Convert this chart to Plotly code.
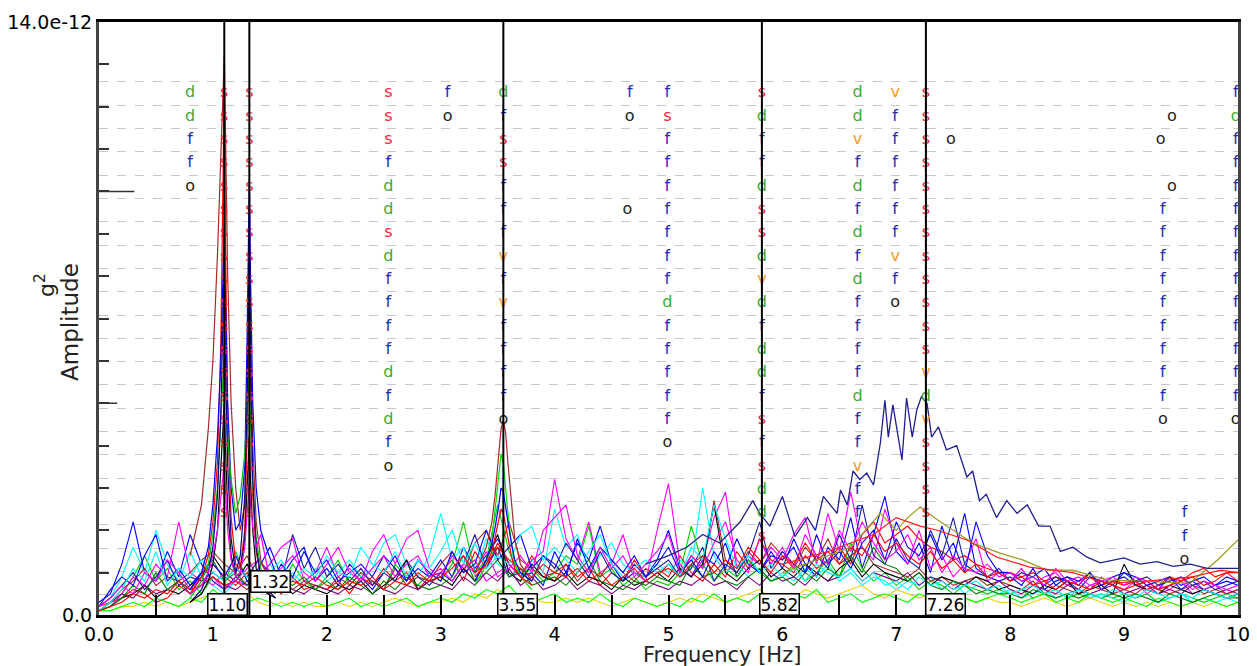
import plotly.graph_objects as go

# ---------------- data ----------------
FREQ_GRID = [i / 10 for i in range(101)]  # Hz, 0.1 Hz sampling

NOISE = [
    ("#0000ff", [0.3,0.5,1.2,2.2,1.0,0.8,1.5,0.9,1.9,1.2,
                 0.8,0.6,0.9,0.7,1.1,1.6,0.9,1.3,1.6,0.8,
                 1.1,0.7,1.2,0.9,0.6,1.0,1.4,0.8,1.1,0.9,
                 1.3,0.9,1.6,1.1,1.4,1.8,1.2,0.9,1.0,0.7,
                 1.5,1.0,1.7,1.3,2.1,1.2,0.8,1.0,0.9,1.3,
                 2.0,1.1,0.9,1.4,1.2,1.7,0.9,1.3,1.0,1.5,
                 1.1,1.8,1.2,0.9,1.6,1.3,2.3,1.1,1.9,2.8,
                 1.5,1.2,1.7,1.0,2.1,1.3,2.4,1.1,0.9,0.8,
                 0.9,0.7,1.1,0.6,0.8,0.9,0.7,1.0,0.6,0.8,
                 0.9,0.7,0.8,0.6,0.9,0.7,0.8,0.6,0.7,0.9,0.8]),
    ("#ff0000", [0.2,0.3,0.4,0.6,0.5,0.3,0.4,0.7,0.5,0.9,
                 1.2,0.9,0.7,1.0,0.6,0.8,0.5,0.9,0.6,0.7,
                 0.6,0.8,0.5,0.9,0.7,1.1,0.8,1.0,0.6,0.9,
                 1.0,1.3,0.8,1.5,1.1,1.7,1.2,0.9,1.4,1.0,
                 0.8,1.2,0.9,1.1,0.7,1.0,0.8,1.3,0.9,1.1,
                 0.9,1.4,1.0,0.8,1.2,0.9,1.5,1.1,1.8,1.3,
                 1.2,1.0,1.4,1.1,1.3,1.6,1.2,1.9,2.2,1.7,
                 1.9,2.1,1.8,1.6,1.5,1.3,1.4,1.2,1.1,1.0,
                 1.0,0.9,1.0,0.8,0.9,0.7,0.8,0.9,0.7,0.8,
                 0.7,0.8,0.6,0.7,0.9,0.8,1.0,1.1,0.9,1.0,1.0]),
    ("#00d000", [0.1,0.3,0.5,0.9,1.4,0.8,1.1,0.6,0.8,0.5,
                 0.9,0.7,1.5,0.8,0.6,0.9,0.7,1.2,0.8,0.6,
                 0.9,1.3,0.7,1.0,0.8,0.6,1.2,0.9,0.7,1.0,
                 0.8,1.2,2.2,1.0,1.3,2.6,1.5,0.9,1.1,0.8,
                 1.0,1.4,1.2,2.1,0.9,1.1,0.7,0.9,0.6,0.8,
                 0.7,1.0,2.1,1.2,0.8,1.1,0.9,1.3,1.0,0.8,
                 0.9,1.2,0.8,1.0,1.3,0.9,1.7,1.1,0.8,1.0,
                 0.7,0.9,0.6,0.8,0.7,0.5,0.7,0.6,0.5,0.6,
                 0.5,0.6,0.4,0.5,0.6,0.4,0.5,0.4,0.5,0.4,
                 0.5,0.4,0.5,0.3,0.4,0.5,0.4,0.3,0.4,0.5,0.4]),
    ("#00ffff", [0.2,0.4,0.9,1.6,1.0,2.0,1.2,0.8,1.5,0.9,
                 0.7,0.5,0.8,0.6,0.9,1.2,0.8,1.0,0.7,1.1,
                 0.8,1.0,1.3,0.9,1.1,1.7,1.9,1.2,0.9,1.4,
                 2.4,1.3,1.6,0.9,1.8,1.2,1.0,0.8,1.3,1.0,
                 2.5,1.6,1.9,1.1,1.4,1.7,1.2,1.0,0.9,1.2,
                 1.0,1.3,1.1,3.0,1.4,1.0,1.2,0.9,1.1,0.8,
                 1.0,0.8,1.1,0.9,1.2,0.8,1.0,0.7,0.9,0.8,
                 0.6,0.8,0.7,0.9,0.6,0.8,0.5,0.7,0.6,0.5,
                 0.6,0.4,0.5,0.6,0.4,0.5,0.6,0.4,0.5,0.4,
                 0.3,0.5,0.4,0.3,0.4,0.5,0.3,0.4,0.3,0.4,0.3]),
    ("#ff00ff", [0.1,0.2,0.5,0.9,0.7,1.2,0.9,2.2,1.0,0.8,
                 0.9,0.6,0.8,0.7,0.9,1.2,1.6,1.8,0.8,1.0,
                 1.6,0.9,1.1,0.8,1.5,1.9,1.2,1.8,2.0,1.1,
                 0.9,1.4,1.1,1.3,0.8,1.0,1.2,0.9,1.3,1.5,
                 3.2,1.8,1.3,2.2,1.0,1.2,1.9,1.0,0.8,2.0,
                 3.1,1.2,0.9,1.3,2.3,2.9,1.1,1.4,1.2,1.6,
                 1.3,1.9,2.3,1.2,2.4,1.5,2.9,1.6,1.3,2.5,
                 1.7,1.2,2.0,1.1,1.4,0.9,1.2,1.8,0.8,1.0,
                 0.8,1.1,0.7,0.9,1.0,0.7,0.8,0.6,0.9,0.7,
                 0.6,0.8,0.5,0.7,0.6,0.8,0.5,0.6,0.7,0.5,0.6]),
    ("#a52a2a", [0.1,0.3,0.6,0.8,1.1,0.7,0.9,0.8,1.0,1.3,
                 1.5,1.2,1.0,1.4,0.8,0.7,0.9,0.6,0.8,0.7,
                 0.6,0.9,0.7,1.0,0.8,0.6,1.1,0.7,0.9,0.8,
                 1.2,1.5,1.0,1.7,2.0,1.4,2.2,1.3,1.1,0.9,
                 1.0,1.2,0.8,1.1,0.9,1.3,1.0,0.8,1.1,0.9,
                 1.2,0.9,1.4,1.1,2.7,1.3,1.0,1.5,1.2,1.7,
                 1.4,1.1,1.6,1.3,1.8,1.2,1.4,1.6,1.2,1.1,
                 1.0,0.9,1.1,0.8,0.9,0.7,0.8,0.9,0.7,0.8,
                 0.7,0.6,0.8,0.5,0.7,0.6,0.5,0.7,0.6,0.5,
                 0.6,0.5,0.7,0.6,0.5,0.6,0.7,0.5,0.6,0.5,0.6]),
    ("#1a1aa6", [0.2,0.4,0.7,1.0,0.6,0.9,1.3,0.7,0.9,0.8,
                 1.0,0.8,1.1,0.9,1.3,1.0,0.8,1.9,1.1,1.6,
                 0.9,1.2,0.8,1.1,0.7,1.0,0.8,1.3,0.9,0.7,
                 1.0,0.8,1.2,1.9,1.1,1.6,0.9,1.0,0.8,1.4,
                 1.1,1.7,1.3,0.9,1.5,1.0,0.8,1.2,0.9,1.1,
                 1.3,0.9,1.1,1.6,0.8,1.2,1.0,1.4,2.2,1.1,
                 1.5,1.2,1.0,1.4,1.1,1.9,1.3,2.6,1.4,1.2,
                 1.8,1.3,1.1,2.0,1.4,2.3,1.2,1.0,0.9,1.1,
                 0.8,1.0,0.9,0.7,0.9,0.8,0.6,0.9,0.8,0.7,
                 1.0,0.8,0.9,0.7,0.8,0.9,0.7,0.8,0.6,0.7,0.8]),
    ("#000000", [0.1,0.2,0.4,0.5,0.7,0.4,0.6,0.5,0.7,0.9,
                 1.4,1.0,0.8,1.2,0.7,0.6,0.8,0.5,0.7,0.6,
                 0.5,0.7,0.6,0.8,0.5,0.7,0.9,1.3,0.6,0.8,
                 0.9,0.7,1.1,0.8,1.3,1.9,1.0,0.8,1.2,0.9,
                 0.8,1.0,0.7,0.9,0.8,0.6,0.9,0.7,0.8,1.0,
                 0.8,1.1,0.9,1.2,2.6,1.0,0.8,1.1,1.3,0.9,
                 1.1,0.9,1.2,1.0,0.8,1.1,1.3,0.9,1.2,1.0,
                 0.9,0.8,1.0,0.7,0.9,0.8,0.7,0.9,0.8,0.6,
                 0.7,0.6,0.5,0.7,0.6,0.8,0.5,0.6,0.7,0.5,
                 1.2,0.7,0.6,0.5,0.7,0.6,0.5,0.6,0.5,0.4,0.5]),
    ("#e6d200", [0.1,0.1,0.2,0.2,0.3,0.2,0.3,0.2,0.3,0.4,
                 0.5,0.4,0.3,0.5,0.3,0.2,0.3,0.2,0.3,0.2,
                 0.2,0.3,0.2,0.3,0.2,0.3,0.4,0.3,0.2,0.3,
                 0.3,0.4,0.3,0.5,0.4,0.6,0.4,0.3,0.4,0.3,
                 0.3,0.4,0.3,0.4,0.3,0.2,0.3,0.4,0.3,0.2,
                 0.3,0.4,0.3,0.5,0.4,0.3,0.4,0.5,0.6,0.4,
                 0.5,0.4,0.6,0.5,0.4,0.5,0.6,0.7,0.5,0.4,
                 0.6,0.5,0.4,0.5,0.4,0.3,0.4,0.3,0.4,0.3,
                 0.3,0.2,0.3,0.4,0.3,0.2,0.3,0.4,0.3,0.2,
                 0.3,0.2,0.3,0.2,0.3,0.2,0.3,0.2,0.3,0.2,0.3]),
    ("#00ff00", [0.1,0.1,0.2,0.3,0.2,0.4,0.3,0.2,0.4,0.3,
                 0.6,0.4,0.5,0.3,0.4,0.3,0.2,0.3,0.2,0.3,
                 0.2,0.3,0.4,0.2,0.3,0.2,0.3,0.4,0.2,0.3,
                 0.4,0.3,0.5,0.4,0.6,0.5,0.7,0.4,0.3,0.4,
                 0.5,0.3,0.4,0.3,0.5,0.3,0.2,0.4,0.3,0.2,
                 0.3,0.2,0.4,0.3,0.5,0.3,0.4,0.3,0.5,0.4,
                 0.3,0.5,0.4,0.6,0.3,0.4,0.5,0.3,0.4,0.5,
                 0.4,0.3,0.5,0.4,0.3,0.5,0.4,0.3,0.4,0.5,
                 0.4,0.3,0.4,0.5,0.3,0.4,0.3,0.5,0.4,0.3,
                 0.4,0.3,0.2,0.4,0.3,0.2,0.3,0.4,0.3,0.2,0.3]),
    ("#7f007f", [0.1,0.3,0.5,0.4,0.7,0.5,0.6,0.8,0.5,0.7,
                 0.9,0.7,0.6,0.8,0.6,0.5,0.7,0.6,0.5,0.7,
                 0.6,0.5,0.7,0.6,0.8,0.6,0.5,0.7,0.6,0.8,
                 0.7,0.6,0.9,0.7,1.0,0.8,1.1,0.7,0.9,0.6,
                 0.7,0.9,0.6,0.8,0.7,0.5,0.7,0.6,0.8,0.7,
                 0.6,0.8,0.7,0.9,0.7,0.8,0.6,0.9,0.7,1.0,
                 0.8,0.9,0.7,1.0,0.8,0.9,1.1,0.8,1.0,0.9,
                 0.8,1.0,0.7,0.9,0.8,0.6,0.8,0.7,0.6,0.8,
                 0.6,0.5,0.7,0.6,0.5,0.7,0.6,0.5,0.6,0.7,
                 0.5,0.6,0.7,0.5,0.6,0.5,0.7,0.6,0.5,0.6,0.5]),
    ("#008000", [0.1,0.2,0.4,0.7,0.5,1.0,0.6,0.8,0.6,1.0,
                 1.3,0.8,1.0,0.7,0.9,0.6,0.8,0.7,0.9,0.6,
                 0.8,0.6,0.9,0.7,0.5,0.8,0.6,0.9,0.7,0.6,
                 0.7,0.9,1.4,0.8,1.0,1.3,0.9,1.1,0.7,0.8,
                 0.9,0.7,1.0,1.3,0.8,0.7,0.6,0.8,0.7,0.9,
                 0.8,0.7,1.2,0.9,1.0,0.8,0.7,0.9,1.1,0.8,
                 0.9,0.7,1.0,0.8,1.1,0.9,1.4,1.0,1.6,1.2,
                 1.1,0.8,1.0,0.7,0.6,0.8,0.7,0.5,0.6,0.5,
                 0.5,0.4,0.6,0.5,0.4,0.5,0.4,0.5,0.4,0.5,
                 0.4,0.5,0.4,0.3,0.5,0.4,0.3,0.4,0.5,0.4,0.4]),
    ("#0000ff", [0.2,0.6,0.9,0.7,1.4,1.9,0.8,1.1,0.7,1.0,
                 1.2,0.9,1.4,0.8,1.0,0.7,1.2,0.9,1.5,1.0,
                 1.3,0.8,1.0,1.2,0.9,1.4,1.1,0.8,1.3,1.0,
                 0.8,1.5,1.0,1.2,2.0,1.3,1.6,1.9,1.1,1.4,
                 1.2,0.9,1.8,1.1,1.6,1.3,1.0,1.4,0.9,1.2,
                 1.6,1.0,1.3,0.9,1.5,1.1,1.8,1.2,1.0,1.4,
                 1.3,1.6,1.0,1.9,1.2,1.5,1.1,1.7,2.0,1.3,
                 2.2,1.6,1.4,1.9,1.3,1.7,1.0,2.2,1.4,1.0,
                 1.0,0.8,0.9,1.1,0.7,0.9,0.8,1.0,0.7,0.9,
                 1.0,0.9,0.7,0.8,0.9,0.6,0.8,0.9,0.7,0.8,0.7]),
    ("#ff00ff", [0.2,0.4,0.7,0.5,1.0,0.8,1.3,1.0,0.6,0.9,
                 0.7,1.0,0.8,1.1,1.3,0.9,1.1,1.4,1.0,0.8,
                 1.2,1.6,1.0,0.8,1.1,1.4,0.9,1.2,1.4,0.9,
                 1.1,0.8,1.2,1.0,1.5,0.9,1.1,1.4,1.0,2.0,
                 2.3,2.6,1.4,1.0,1.6,1.1,1.4,0.9,1.2,1.5,
                 1.9,1.0,1.4,1.1,1.7,2.2,1.3,1.0,1.8,1.2,
                 1.6,1.1,1.9,1.4,1.2,2.0,1.5,2.2,1.7,1.3,
                 1.5,1.9,1.3,1.6,1.0,1.4,1.1,1.0,1.2,0.9,
                 1.0,0.8,0.9,0.7,1.1,0.8,0.9,0.7,0.8,0.9,
                 0.7,0.9,0.8,0.6,0.7,0.9,0.6,0.8,0.7,0.6,0.7]),
    ("#00ffff", [0.1,0.3,0.6,1.1,0.8,1.5,0.7,1.1,0.9,1.3,
                 1.0,0.8,1.1,0.9,0.7,1.0,1.3,0.8,1.1,0.9,
                 1.4,1.0,0.9,1.6,1.2,1.0,1.5,0.9,1.3,1.1,
                 1.5,2.0,1.2,1.7,1.1,1.4,1.2,1.9,2.1,1.3,
                 1.6,1.3,1.0,1.5,1.9,1.2,0.9,1.1,1.3,1.0,
                 1.2,0.9,1.6,1.3,2.6,1.8,1.1,1.4,1.0,1.2,
                 0.9,1.1,0.8,1.2,1.0,0.9,1.1,0.8,1.0,0.7,
                 0.8,0.6,0.9,0.7,0.8,0.6,0.7,0.8,0.6,0.7,
                 0.5,0.6,0.7,0.5,0.6,0.4,0.6,0.5,0.4,0.6,
                 0.5,0.4,0.6,0.5,0.4,0.5,0.4,0.6,0.5,0.4,0.5]),
    ("#ff0000", [0.1,0.2,0.3,0.5,0.4,0.6,0.5,0.8,0.6,0.7,
                 0.9,0.7,0.8,0.6,0.9,0.7,0.6,0.8,0.7,0.9,
                 0.7,0.6,0.8,0.7,0.9,0.6,0.8,0.7,1.0,0.8,
                 0.9,1.1,1.4,1.0,1.2,1.6,1.3,1.1,0.9,1.2,
                 1.0,0.9,1.1,0.8,1.0,0.7,0.9,1.1,0.8,1.0,
                 1.1,0.9,1.2,1.4,1.0,1.3,1.1,1.6,1.3,1.0,
                 1.4,1.2,1.7,1.3,1.5,1.2,1.6,1.4,1.9,1.5,
                 1.7,1.4,1.2,1.5,1.1,1.3,1.0,1.2,0.9,1.0,
                 0.8,0.9,0.7,0.8,0.6,0.8,0.7,0.6,0.8,0.7,
                 0.6,0.7,0.8,0.6,0.7,0.8,0.9,0.7,0.8,1.0,0.8]),
]

# Broad navy hump (5.5 - 10 Hz)
NAVY_F = [4.80,5.00,5.16,5.30,5.45,5.63,5.74,5.80,5.89,6.00,6.11,6.22,6.29,6.36,6.48,
          6.51,6.57,6.62,6.68,6.74,6.80,6.86,6.90,6.93,6.97,7.05,7.09,7.14,7.18,7.22,
          7.27,7.31,7.37,7.44,7.53,7.62,7.67,7.73,7.79,7.88,7.97,8.06,8.15,8.25,8.35,
          8.44,8.55,8.67,8.79,8.90,9.00,9.14,9.29,9.43,9.58,9.73,10.0]
NAVY_A = [1.2,1.4,1.6,1.9,1.7,2.2,2.7,2.4,2.1,2.8,1.85,2.3,2.0,2.8,2.4,
          2.95,2.6,3.4,3.2,3.35,3.07,4.06,5.07,4.2,4.96,3.66,5.12,4.2,4.84,5.15,
          5.0,4.2,4.44,3.9,4.0,3.26,3.4,2.7,2.85,2.3,2.7,2.4,2.6,2.1,2.1,
          1.5,1.6,1.37,1.23,1.3,1.35,1.2,1.26,1.15,1.2,1.1,1.1]

OLIVE_F = [6.00,6.30,6.60,6.86,7.00,7.10,7.21,7.36,7.50,7.67,7.91,8.11,8.32,8.55,8.85,9.20,9.58,9.82,10.0]
OLIVE_A = [1.0,1.3,1.6,2.4,2.0,2.3,2.55,2.25,2.0,1.7,1.46,1.3,1.06,1.06,0.83,0.8,0.75,1.3,1.77]

REDTAIL_F = [6.00,6.40,6.80,7.00,7.21,7.36,7.62,7.88,8.17,8.55,8.85,9.20,9.60,9.85,10.0]
REDTAIL_A = [1.2,1.5,1.9,2.3,2.1,2.0,1.77,1.37,1.13,1.0,0.75,0.8,0.9,1.06,1.0]

# Peaks near 1.10 / 1.32 Hz
PEAK1_F = [0.80,0.90,0.96,1.00,1.04,1.07,1.09,1.10,1.11,1.13,1.16,1.20,1.24,1.28,1.30,1.31,1.32,1.33,1.35,1.38,1.42,1.48,1.55]
PEAK1 = [
    ("#a52a2a", [1.4,2.6,4.4,6.0,8.5,11.0,12.8,13.2,11.5,8.0,5.0,3.0,2.0,2.6,4.5,6.5,8.4,6.8,4.0,2.2,1.3,0.9,0.7]),
    ("#ff0000", [0.5,0.9,1.4,2.2,3.6,6.5,10.5,12.6,9.0,4.5,2.3,1.2,1.1,2.0,4.2,6.5,8.0,5.5,2.8,1.5,0.9,0.6,0.5]),
    ("#0000ff", [0.6,1.0,1.6,2.6,4.2,6.0,8.2,9.0,7.5,5.0,3.0,2.0,2.2,3.5,6.5,9.0,10.3,8.0,5.0,3.0,2.0,1.5,1.0]),
    ("#00c000", [0.4,0.8,1.2,1.9,3.0,4.5,5.8,6.2,5.5,4.2,3.2,2.4,2.8,3.8,4.8,5.4,5.8,4.6,3.0,1.8,1.1,0.7,0.5]),
    ("#00008b", [0.3,0.6,1.0,1.6,2.8,4.8,7.2,8.0,6.0,3.5,1.8,1.0,1.4,2.8,5.0,7.5,8.9,6.0,3.2,1.6,0.9,0.6,0.4]),
    ("#000000", [0.3,0.5,0.8,1.2,2.0,3.4,4.6,5.0,4.0,2.5,1.4,0.9,1.0,1.8,3.0,3.8,4.2,3.2,2.0,1.1,0.7,0.5,0.4]),
    ("#ff00ff", [0.5,0.7,1.0,1.4,2.0,2.8,3.4,3.6,3.0,2.0,1.3,0.9,1.0,1.6,2.4,2.9,3.1,2.6,2.1,1.6,1.9,1.1,0.8]),
]

# Peak near 3.55 Hz
PEAK2_F = [3.30,3.40,3.45,3.48,3.51,3.53,3.55,3.57,3.59,3.62,3.65,3.70,3.80]
PEAK2 = [
    ("#a52a2a", [1.0,1.6,2.2,2.9,3.8,4.4,4.6,4.3,3.6,2.6,1.8,1.2,0.8]),
    ("#00e000", [0.7,1.2,1.8,2.5,3.3,3.8,3.6,3.0,2.4,1.7,1.2,0.9,0.6]),
    ("#0000ff", [0.8,1.3,1.7,2.1,2.6,3.0,2.9,2.6,2.2,1.7,1.3,1.0,0.8]),
    ("#ff0000", [0.9,1.2,1.5,1.9,2.3,2.5,2.4,2.1,1.8,1.4,1.1,0.9,0.7]),
]

# Picked frequencies
PICKED = [1.10, 1.32, 3.55, 5.82, 7.26]

# Stabilisation columns: (frequency, first row from top, letters by row)
STAB_COLS = [
    (0.80, 0, "ddffo"),
    (1.10, 0, "sssssssssssssssssss"),
    (1.32, 0, "sssssssssssssssssss"),
    (2.54, 0, "sssfddsdffffdfdfo"),
    (3.06, 0, "fo"),
    (3.55, 0, "dfssfffvfvffffo"),
    (4.66, 0, "fo"),
    (4.64, 5, "o"),
    (4.99, 0, "fsfffffffdfffffo"),
    (5.82, 0, "sdffdssdvdfddfsfsdds"),
    (6.66, 0, "ddvfdfdfdffffdffvff"),
    (6.99, 0, "vffffffvfo"),
    (7.26, 0, "ssssssssssssvdvssss"),
    (7.48, 2, "o"),
    (9.42, 1, "o"),
    (9.32, 2, "o"),
    (9.42, 4, "o"),
    (9.34, 5, "fffffffffo"),
    (9.53, 18, "ffo"),
    (9.98, 0, "fdffffffffffffo"),
]
N_ORDERS = 23          # model-order rows in the diagram
TOP_ORDER = 22         # value of the top row on the order axis

LETTER_COLORS = {"s": "#f5253a", "d": "#3aa83a", "f": "#2a2ab0", "o": "#222222", "v": "#f59a30"}

# ---------------- figure ----------------
FONT = "DejaVu Sans"
fig = go.Figure()

for col, vals in NOISE:
    fig.add_trace(go.Scatter(x=FREQ_GRID, y=vals, mode="lines",
                             line=dict(color=col, width=1.1), hoverinfo="skip"))

fig.add_trace(go.Scatter(x=OLIVE_F, y=OLIVE_A, mode="lines", line=dict(color="#9a9a20", width=1.2), hoverinfo="skip"))
fig.add_trace(go.Scatter(x=REDTAIL_F, y=REDTAIL_A, mode="lines", line=dict(color="#ff1a1a", width=1.2), hoverinfo="skip"))
fig.add_trace(go.Scatter(x=NAVY_F, y=NAVY_A, mode="lines", line=dict(color="#1f1f8f", width=1.3), hoverinfo="skip"))

for col, vals in PEAK2:
    fig.add_trace(go.Scatter(x=PEAK2_F, y=vals, mode="lines", line=dict(color=col, width=1.2), hoverinfo="skip"))
for col, vals in PEAK1:
    fig.add_trace(go.Scatter(x=PEAK1_F, y=vals, mode="lines", line=dict(color=col, width=1.2), hoverinfo="skip"))

# letters
lx, ly, lt, lc = [], [], [], []
for f, r0, letters in STAB_COLS:
    for k, ch in enumerate(letters):
        lx.append(f)
        ly.append(TOP_ORDER - (r0 + k))
        lt.append(ch)
        lc.append(LETTER_COLORS[ch])
fig.add_trace(go.Scatter(x=lx, y=ly, text=lt, mode="text", yaxis="y2",
                         textfont=dict(family=FONT, size=16, color=lc),
                         textposition="middle center", hoverinfo="skip"))

# picked frequency lines
for p in PICKED:
    fig.add_shape(type="line", x0=p, x1=p, y0=0, y1=1, xref="x", yref="paper",
                  line=dict(color="black", width=2), layer="above")

# longer amplitude ticks at 5e-12 and 10e-12
for yv, frac in [(5, 0.016), (10, 0.031)]:
    fig.add_shape(type="line", x0=0, x1=frac, y0=yv, y1=yv, xref="paper", yref="y",
                  line=dict(color="#333", width=1.5), layer="above")

label_style = {1.10: (-17, 0.018), 1.32: (1, 0.057), 3.55: (-6, 0.018), 5.82: (-3, 0.018), 7.26: (-1, 0.018)}
for p in PICKED:
    xs, yp = label_style[p]
    fig.add_annotation(x=p, y=yp, xref="x", yref="paper", text=f"{p:.2f}",
                       showarrow=False, xanchor="left", yanchor="middle", xshift=xs,
                       font=dict(family=FONT, size=17, color="black"),
                       bgcolor="white", bordercolor="black", borderwidth=1.5, borderpad=0)

# axis titles
fig.add_annotation(x=0.547, y=-0.068, xref="paper", yref="paper", text="Frequency [Hz]",
                   showarrow=False, font=dict(family=FONT, size=21, color="#222"),
                   xanchor="center", yanchor="middle")
fig.add_annotation(x=-0.0255, y=0.494, xref="paper", yref="paper", text="Amplitude",
                   showarrow=False, textangle=-90, font=dict(family=FONT, size=23, color="#222"),
                   xanchor="center", yanchor="middle")
fig.add_annotation(x=-0.048, y=0.557, xref="paper", yref="paper", text="g<sup>2</sup>",
                   showarrow=False, textangle=-90, font=dict(family=FONT, size=22, color="#222"),
                   xanchor="center", yanchor="middle")

xt = list(range(11))
fig.update_layout(
    width=1257, height=666, autosize=False,
    margin=dict(l=99, r=19, t=22, b=51, autoexpand=False),
    paper_bgcolor="white", plot_bgcolor="white",
    showlegend=False, hovermode=False,
    font=dict(family=FONT, size=19, color="black"),
    xaxis=dict(range=[0, 10], tickvals=xt, ticktext=["0.0"] + [str(v) for v in xt[1:]],
               ticks="inside", ticklen=20, tickwidth=1.5, tickcolor="black",
               minor=dict(dtick=0.5, tick0=0, ticks="inside", ticklen=20, tickwidth=1.5, tickcolor="black"),
               showgrid=False, zeroline=False, showline=True, linecolor="black", linewidth=3,
               mirror=True, automargin=False, tickfont=dict(family=FONT, size=19, color="black")),
    yaxis=dict(range=[0, 14], tickvals=[0, 14], ticktext=["0.0", "14.0e-12"],
               ticks="inside", ticklen=10, tickwidth=1.5, tickcolor="#333",
               minor=dict(dtick=1, tick0=0, ticks="inside", ticklen=10, tickwidth=1.5, tickcolor="#333"),
               showgrid=False, zeroline=False, showline=True, linecolor="#444", linewidth=3,
               mirror=True, automargin=False, tickfont=dict(family=FONT, size=19, color="black")),
    yaxis2=dict(range=[-0.36, 25.06], overlaying="y", side="right",
                tickvals=[r + 0.5 for r in range(N_ORDERS)], showticklabels=False, ticks="",
                showgrid=True, gridcolor="#c8c8c8", gridwidth=1, griddash="dash",
                zeroline=False, showline=False, automargin=False),
)

fig.write_html("out.html", config={"displayModeBar": False},
               post_script="document.body.style.margin='0';document.body.style.overflow='hidden';")
